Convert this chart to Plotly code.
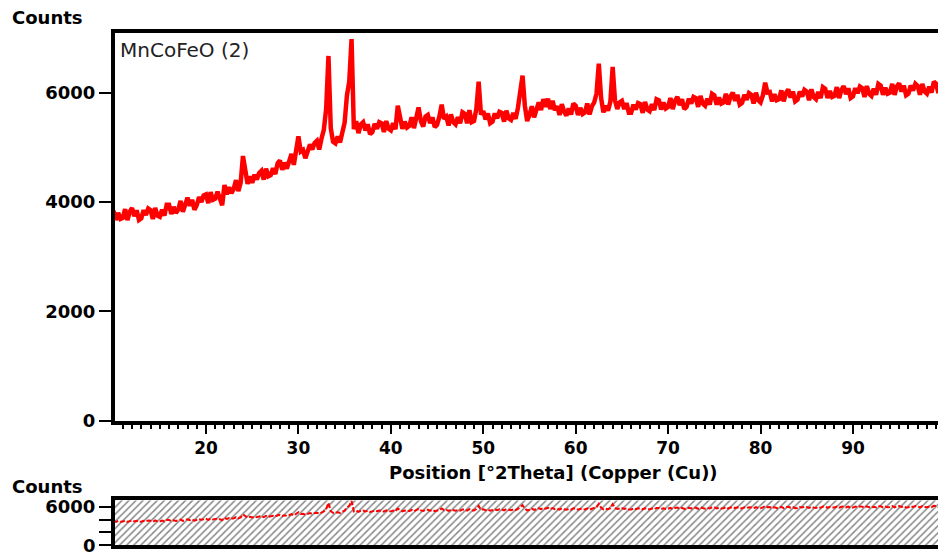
import numpy as np
import plotly.graph_objects as go

# Scan: 2Theta from 10.00 deg, step 0.25 deg
start_2theta = 10.0
step_2theta = 0.25

counts = [
    3840, 3670, 3800, 3690,   # 10
    3710, 3870, 3670, 3820,   # 11
    3890, 3740, 3850, 3670,   # 12
    3700, 3850, 3760, 3880,   # 13
    3850, 3690, 3890, 3750,   # 14
    3730, 3860, 3750, 3950,   # 15
    3950, 3780, 3910, 3800,   # 16
    3860, 4020, 3820, 3970,   # 17
    4080, 3930, 4040, 3860,   # 18
    3940, 4090, 4000, 4120,   # 19
    4140, 3980, 4180, 4040,   # 20
    4060, 4190, 4080, 3940,   # 21
    4310, 4140, 4270, 4160,   # 22
    4240, 4400, 4200, 4350,   # 23
    4840, 4560, 4330, 4470,   # 24
    4350, 4500, 4410, 4530,   # 25
    4570, 4410, 4610, 4470,   # 26
    4490, 4620, 4510, 4710,   # 27
    4760, 4590, 4720, 4610,   # 28
    4720, 4880, 4680, 4900,   # 29
    5200, 4920, 4950, 4800,   # 30
    4900, 5050, 4960, 5080,   # 31
    5120, 4960, 5160, 5320,   # 32
    5700, 6670, 5350, 5100,   # 33
    5070, 5200, 5090, 5290,   # 34
    5450, 5950, 6200, 6980,   # 35
    5330, 5480, 5260, 5420,   # 36
    5460, 5310, 5420, 5240,   # 37
    5280, 5430, 5340, 5460,   # 38
    5440, 5280, 5480, 5340,   # 39
    5310, 5440, 5330, 5760,   # 40
    5510, 5340, 5470, 5360,   # 41
    5390, 5550, 5350, 5600,   # 42
    5730, 5480, 5380, 5560,   # 43
    5590, 5440, 5550, 5370,   # 44
    5410, 5560, 5780, 5520,   # 45
    5560, 5400, 5600, 5460,   # 46
    5420, 5550, 5440, 5640,   # 47
    5610, 5440, 5680, 5460,   # 48
    5480, 5700, 6200, 5600,   # 49
    5660, 5510, 5620, 5440,   # 50
    5470, 5620, 5530, 5650,   # 51
    5630, 5470, 5670, 5530,   # 52
    5500, 5630, 5520, 5720,   # 53
    6000, 6310, 5760, 5480,   # 54
    5590, 5750, 5550, 5700,   # 55
    5820, 5680, 5880, 5740,   # 56
    5890, 5700, 5850, 5680,   # 57
    5750, 5590, 5790, 5650,   # 58
    5580, 5710, 5600, 5800,   # 59
    5760, 5590, 5720, 5610,   # 60
    5640, 5800, 5600, 5750,   # 61
    5820, 5980, 6530, 5900,   # 62
    5640, 5760, 5670, 5830,   # 63
    6470, 5860, 5700, 5820,   # 64
    5850, 5700, 5810, 5630,   # 65
    5630, 5780, 5690, 5810,   # 66
    5790, 5630, 5830, 5690,   # 67
    5660, 5790, 5680, 5880,   # 68
    5860, 5690, 5820, 5710,   # 69
    5740, 5900, 5700, 5850,   # 70
    5920, 5770, 5880, 5700,   # 71
    5740, 5890, 5800, 5920,   # 72
    5900, 5740, 5940, 5800,   # 73
    5760, 5890, 5780, 5980,   # 74
    5950, 5780, 5910, 5800,   # 75
    5820, 5980, 5780, 5930,   # 76
    6000, 5850, 5960, 5780,   # 77
    5810, 5960, 5870, 5990,   # 78
    5960, 5800, 6000, 5860,   # 79
    5820, 5950, 6180, 6000,   # 80
    6010, 5840, 5970, 5860,   # 81
    5880, 6040, 5840, 5990,   # 82
    6060, 5910, 6020, 5840,   # 83
    5870, 6020, 5930, 6050,   # 84
    6020, 5860, 6060, 5920,   # 85
    5880, 6010, 5900, 6100,   # 86
    6070, 5900, 6030, 5920,   # 87
    5940, 6100, 5900, 6050,   # 88
    6120, 5970, 6080, 5900,   # 89
    5930, 6080, 5990, 6110,   # 90
    6080, 5920, 6120, 5980,   # 91
    5940, 6070, 5960, 6160,   # 92
    6130, 5960, 6090, 5980,   # 93
    6000, 6160, 5960, 6110,   # 94
    6170, 6020, 6130, 5950,   # 95
    5980, 6130, 6040, 6160,   # 96
    6120, 5960, 6160, 6020,   # 97
    5980, 6110, 6000, 6200,   # 98
    6160, 5990,               # 99
]

two_theta = start_2theta + step_2theta * np.arange(len(counts))

x_range = [10.155, 99.2]
y_range = [0, 7090]
main_ticks = [0, 2000, 4000, 6000]
main_ticktext = ["0", "2000", "4000", "6000"]
over_ticks = [0, 2000, 4000, 6000]
over_ticktext = ["", "", "", "6000"]
over_zero_label = "0"
x_ticks = [20, 30, 40, 50, 60, 70, 80, 90]
sample_name = "MnCoFeO (2)"
x_title = "Position [°2Theta] (Copper (Cu))"
y_title = "Counts"

FONT = "DejaVu Sans"
bold_tick = dict(family=FONT, size=17, color="black", weight="bold")
bold_y_tick = dict(family=FONT, size=18, color="black", weight="bold")

fig = go.Figure()

# Main pattern
fig.add_trace(go.Scatter(
    x=two_theta, y=counts, mode="lines",
    line=dict(color="#ff0000", width=4.5),
    xaxis="x", yaxis="y", showlegend=False, hoverinfo="skip"))

# Overview panel: hatched background + dashed pattern
fig.add_trace(go.Scatter(
    x=[x_range[0], x_range[1], x_range[1], x_range[0], x_range[0]],
    y=[y_range[0], y_range[0], y_range[1], y_range[1], y_range[0]],
    mode="lines", fill="toself", line=dict(width=0),
    fillcolor="white",
    fillpattern=dict(shape="/", fgcolor="#111111", bgcolor="white",
                     size=5, solidity=0.3),
    xaxis="x2", yaxis="y2", showlegend=False, hoverinfo="skip"))
fig.add_trace(go.Scatter(
    x=two_theta, y=counts, mode="lines",
    line=dict(color="#ff0000", width=2, dash="5px,2px"),
    xaxis="x2", yaxis="y2", showlegend=False, hoverinfo="skip"))

fig.update_layout(
    width=938, height=555,
    margin=dict(l=115, r=0, t=33, b=7),
    paper_bgcolor="white", plot_bgcolor="white",
    xaxis=dict(
        domain=[0, 1], anchor="y", range=x_range,
        showline=True, linewidth=4, linecolor="black", mirror=True,
        showgrid=False, zeroline=False,
        tickvals=x_ticks, ticks="outside", ticklen=9, tickwidth=2,
        tickcolor="black", tickfont=bold_tick,
        minor=dict(dtick=1, tick0=0, ticks="outside", ticklen=4,
                   tickwidth=1.5, tickcolor="black", showgrid=False),
    ),
    yaxis=dict(
        domain=[0.2427, 1], anchor="x", range=y_range,
        showline=True, linewidth=4, linecolor="black", mirror=False,
        showgrid=False, zeroline=False,
        tickvals=main_ticks, ticktext=main_ticktext,
        ticks="outside", ticklen=12, tickwidth=1.5, tickcolor="black",
        tickfont=bold_y_tick,
    ),
    xaxis2=dict(
        domain=[0, 1], anchor="y2", range=x_range,
        showline=True, linewidth=4, linecolor="black", mirror=True,
        showgrid=False, zeroline=False, showticklabels=False, ticks="",
    ),
    yaxis2=dict(
        domain=[0, 0.0874], anchor="x2", range=y_range,
        showline=True, linewidth=4, linecolor="black", mirror=False,
        showgrid=False, zeroline=False,
        tickvals=over_ticks, ticktext=over_ticktext,
        ticks="outside", ticklen=12, tickwidth=1.5, tickcolor="black",
        tickfont=bold_y_tick,
    ),
    annotations=[
        dict(text=y_title, xref="paper", yref="paper", x=-0.1276, y=1.031,
             xanchor="left", yanchor="middle", showarrow=False,
             font=dict(family=FONT, size=18, color="black", weight="bold")),
        dict(text=sample_name, xref="paper", yref="paper", x=0.004, y=0.995,
             xanchor="left", yanchor="top", showarrow=False,
             font=dict(family=FONT, size=20, color="#222222")),
        dict(text=x_title, xref="paper", yref="paper", x=0.5334, y=0.142,
             xanchor="center", yanchor="middle", showarrow=False,
             font=dict(family=FONT, size=18, color="black", weight="bold")),
        dict(text=y_title, xref="paper", yref="paper", x=-0.1276, y=0.1146,
             xanchor="left", yanchor="middle", showarrow=False,
             font=dict(family=FONT, size=18, color="black", weight="bold")),
        dict(text=over_zero_label, xref="x2 domain", yref="y2", x=-0.0207,
             y=0, xanchor="right", yanchor="middle", showarrow=False,
             font=dict(family=FONT, size=18, color="black", weight="bold")),
    ],
)

fig.write_html("out.html")
